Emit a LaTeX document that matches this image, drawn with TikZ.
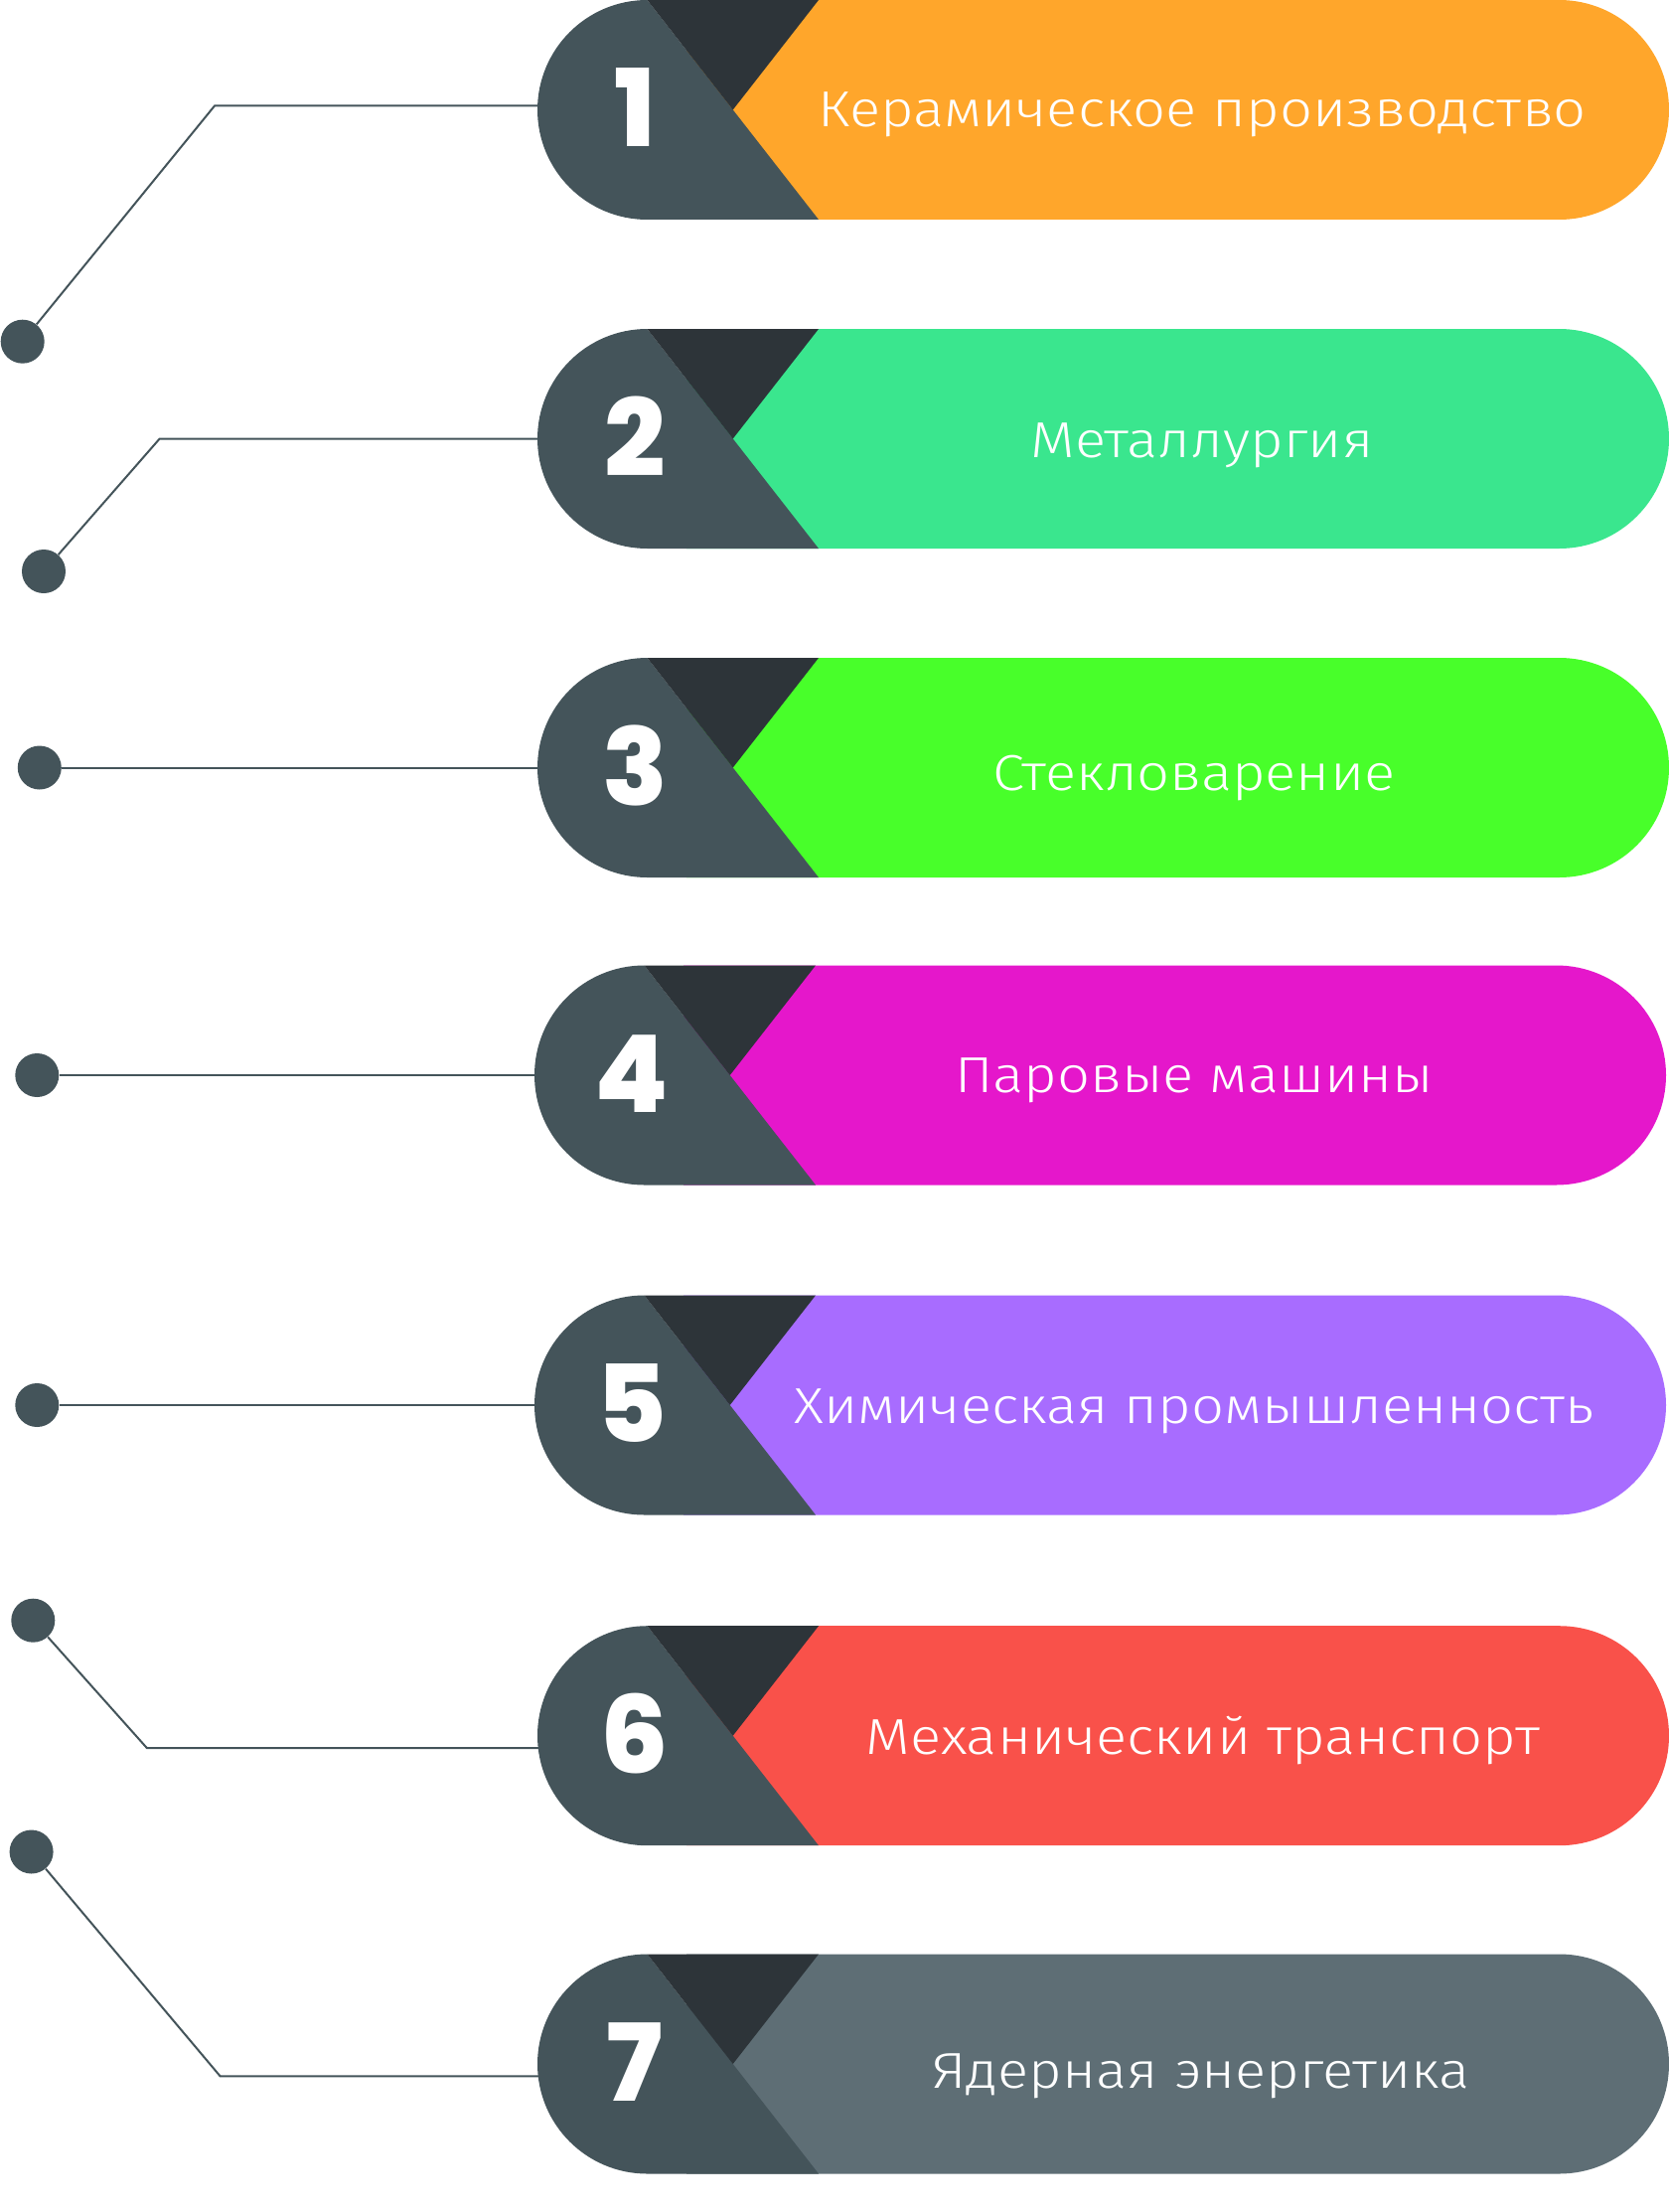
\documentclass[tikz,border=0pt]{standalone}
\usepackage{fontspec}
\setmainfont{Fira Sans Light}[FakeStretch=1.14]
\newfontfamily\numfont{Poppins ExtraBold}
\usetikzlibrary{shapes.misc}
\definecolor{cOrange}{HTML}{FFA62B}
\definecolor{cGreen}{HTML}{3AE68E}
\definecolor{cLime}{HTML}{48FF2A}
\definecolor{cMagenta}{HTML}{E517CB}
\definecolor{cPurple}{HTML}{A86CFF}
\definecolor{cRed}{HTML}{F9514A}
\definecolor{cSlate}{HTML}{5E6E75}
\definecolor{pillgray}{HTML}{44545A}
\definecolor{pilldark}{HTML}{2D3439}
\tikzset{
  pill/.style={rounded rectangle, minimum width=569.5pt, minimum height=110.5pt, inner sep=0pt, draw=none},
  dotnode/.style={circle, fill=pillgray, minimum size=22pt, inner sep=0pt},
  conn/.style={draw=pillgray, line width=1pt},
  lbl/.style={anchor=base, text=white, inner sep=0pt, font={\fontsize{25.4pt}{30pt}\selectfont}},
  num/.style={anchor=base, text=white, inner sep=0pt, font={\numfont\fontsize{54pt}{60pt}\selectfont}},
}
% #1 name, #2 left x, #3 centre y, #4 colour, #5 number, #6 label, #7 label centre x, #8 label y shift
\newcommand\mypill[8]{%
  \node[pill] (#1) at ({#2+569.5},#3) {};
  \fill[#4] ({#2+150},{#3-110.5}) -- ({#2+1028.5},{#3-110.5}) arc[start angle=-90,end angle=90,radius=110.5] -- ({#2+150},{#3+110.5}) -- cycle;
  \fill[pillgray] ({#2+110.5},{#3-110.5}) -- ({#2+283},{#3+110.5}) -- ({#2+110.5},{#3+110.5}) arc[start angle=90,end angle=270,radius=110.5] -- cycle;
  \fill[pilldark] ({#2+110.5},{#3-110.5}) -- ({#2+283},{#3-110.5}) -- ({#2+196.75},#3) -- cycle;
  \node[num] (#1n) at ({#2+98},{#3+37.5}) {#5};
  \node[lbl] (#1t) at (#7,{#3+17.5+#8}) {#6};
}
\begin{document}
\begin{tikzpicture}[x=0.5pt,y=-0.5pt]
\useasboundingbox (0,0) rectangle (1680,2226);
% connectors
\node[dotnode] (d1) at (22.7,343.7) {};
\coordinate (c1) at (216,106.5);
\coordinate (e1) at (545,106.5);
\draw[conn] (d1) -- (c1) -- (e1);
\node[dotnode] (d2) at (44,575) {};
\coordinate (c2) at (160.5,441.7);
\coordinate (e2) at (545,441.7);
\draw[conn] (d2) -- (c2) -- (e2);
\node[dotnode] (d3) at (39.8,772.5) {};
\coordinate (e3) at (545,772.5);
\draw[conn] (d3) -- (e3);
\node[dotnode] (d4) at (37.3,1082) {};
\coordinate (e4) at (542,1082);
\draw[conn] (d4) -- (e4);
\node[dotnode] (d5) at (37.3,1414) {};
\coordinate (e5) at (542,1414);
\draw[conn] (d5) -- (e5);
\node[dotnode] (d6) at (33.3,1630.7) {};
\coordinate (c6) at (148,1759.2);
\coordinate (e6) at (545,1759.2);
\draw[conn] (d6) -- (c6) -- (e6);
\node[dotnode] (d7) at (31.6,1863.5) {};
\coordinate (c7) at (221.6,2089.3);
\coordinate (e7) at (545,2089.3);
\draw[conn] (d7) -- (c7) -- (e7);
% pills
\mypill{p1}{541}{110.5}{cOrange}{1}{Керамическое производство}{1210}{0}
\mypill{p2}{541}{441.5}{cGreen}{2}{Металлургия}{1210}{1}
\mypill{p3}{541}{772.5}{cLime}{3}{Стекловарение}{1202}{5.5}
\mypill{p4}{538}{1082}{cMagenta}{4}{Паровые машины}{1202}{0}
\mypill{p5}{538}{1414}{cPurple}{5}{Химическая промышленность}{1202}{0.5}
\mypill{p6}{541}{1746.7}{cRed}{6}{Механический транспорт}{1211}{1.5}
\mypill{p7}{541}{2077}{cSlate}{7}{Ядерная энергетика}{1209}{7}
\end{tikzpicture}
\end{document}
